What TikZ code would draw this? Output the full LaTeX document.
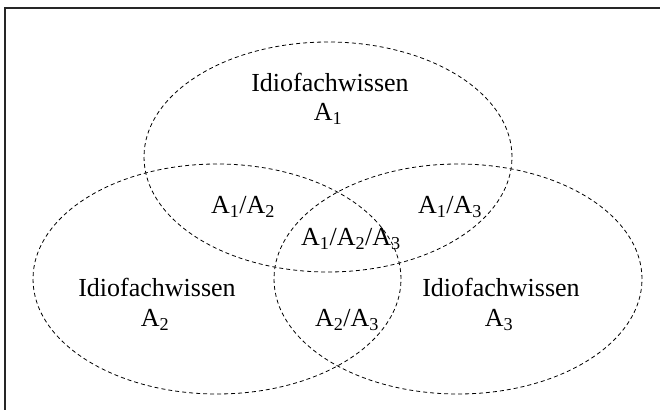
\documentclass[tikz,border=0pt]{standalone}
\usepackage{fontspec}
\setmainfont{Liberation Serif}
\usetikzlibrary{shapes.geometric}
\begin{document}
\begin{tikzpicture}[x=1pt,y=1pt,
  setell/.style={draw, ellipse, dash pattern=on 4pt off 3pt, line width=0.8pt, minimum width=368pt, minimum height=230pt, inner sep=0pt},
  lbl/.style={anchor=base, inner sep=0pt, font=\fontsize{26pt}{30pt}\selectfont}]
\useasboundingbox (0,0) rectangle (660,409);
\clip (0,0) rectangle (660,409);
\draw[line width=2pt, black!85] (5,-20) -- (5,401) -- (680,401);
\node[setell] (e1) at (328,252) {};
\node[setell] (e2) at (217,130) {};
\node[setell] (e3) at (458,130) {};
\node[lbl] (t1) at (330,317) {Idiofachwissen};
\node[lbl] (t1a) at (328,288) {A\textsubscript{1}};
\node[lbl] (t12) at (243,195) {A\textsubscript{1}/A\textsubscript{2}};
\node[lbl] (t13) at (450,195) {A\textsubscript{1}/A\textsubscript{3}};
\node[lbl] (t123) at (351,163) {A\textsubscript{1}/A\textsubscript{2}/A\textsubscript{3}};
\node[lbl] (t2) at (157,112) {Idiofachwissen};
\node[lbl] (t2a) at (155,82) {A\textsubscript{2}};
\node[lbl] (t23) at (347,82) {A\textsubscript{2}/A\textsubscript{3}};
\node[lbl] (t3) at (501,112) {Idiofachwissen};
\node[lbl] (t3a) at (499,82) {A\textsubscript{3}};
\end{tikzpicture}
\end{document}
